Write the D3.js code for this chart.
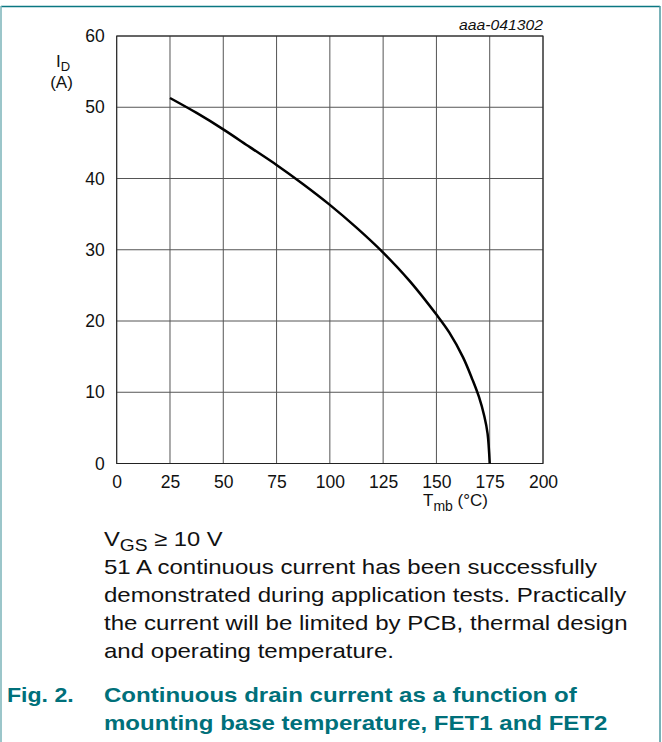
<!DOCTYPE html>
<html>
<head>
<meta charset="utf-8">
<script src="https://cdn.jsdelivr.net/npm/d3@7"></script>
<style>
  body { margin: 0; background: #fff; }
  svg { display: block; font-family: "Liberation Sans", Arial, sans-serif; }
</style>
</head>
<body>
<div id="chart"></div>
<script>
// values: T_mb (°C) vs I_D (A)
let tempValues = [25, 37.5, 50, 62.5, 75, 87.5, 100, 112.5, 125, 137.5, 150, 156, 162.5, 167, 170, 172.5, 174, 175];
let currentValues = [51.3, 49.2, 46.9, 44.4, 41.9, 39.2, 36.3, 33.1, 29.6, 25.6, 20.9, 18.4, 14.9, 11.7, 9.3, 6.6, 4.2, 0];
let xTicks = [0, 25, 50, 75, 100, 125, 150, 175, 200];
let yTicks = [0, 10, 20, 30, 40, 50, 60];
let noteLines = [
    "51 A continuous current has been successfully",
    "demonstrated during application tests. Practically",
    "the current will be limited by PCB, thermal design",
    "and operating temperature."
];
let captionLines = [
    "Continuous drain current as a function of",
    "mounting base temperature, FET1 and FET2"
];

let W = 662, H = 742;
let teal = "#00707a";
let ink = "#111";

let svg = d3.select("#chart").append("svg")
    .attr("width", W).attr("height", H);

// stretched text block: the source uses a slightly wide Arial
function textAt(px, py, sx) {
    return svg.append("g")
        .attr("transform", `translate(${px},${py}) scale(${sx},1)`)
        .append("text").attr("fill", ink);
}

// frame
svg.append("line").attr("x1", 1).attr("x2", 660).attr("y1", 6.5).attr("y2", 6.5)
    .attr("stroke", "#0b7782").attr("stroke-width", 1.5);
svg.append("line").attr("x1", 1).attr("x2", 1).attr("y1", 6).attr("y2", H)
    .attr("stroke", "#7ab3b9").attr("stroke-width", 1.5);
svg.append("line").attr("x1", 660).attr("x2", 660).attr("y1", 6).attr("y2", H)
    .attr("stroke", "#4d98a0").attr("stroke-width", 1.5);

let x = d3.scaleLinear().domain([0, 200]).range([116.7, 543]);
let y = d3.scaleLinear().domain([0, 60]).range([463.5, 36]);

// grid
let grid = svg.append("g").attr("class", "grid");
grid.selectAll("line.v").data(xTicks).enter().append("line").classed("v", true)
    .attr("x1", d => x(d)).attr("x2", d => x(d))
    .attr("y1", y(0)).attr("y2", y(60))
    .attr("stroke", "#555").attr("stroke-width", 1);
grid.selectAll("line.h").data(yTicks).enter().append("line").classed("h", true)
    .attr("x1", x(0)).attr("x2", x(200))
    .attr("y1", d => y(d)).attr("y2", d => y(d))
    .attr("stroke", "#555").attr("stroke-width", 1);
svg.append("rect")
    .attr("x", x(0)).attr("y", y(60))
    .attr("width", x(200) - x(0)).attr("height", y(0) - y(60))
    .attr("fill", "none").attr("stroke", "#222").attr("stroke-width", 1);

// axes (labels only)
let xAxis = svg.append("g").attr("transform", `translate(0,${y(0)})`)
    .call(d3.axisBottom(x).tickValues(xTicks).tickSize(0).tickPadding(12));
let yAxis = svg.append("g").attr("transform", `translate(${x(0)},0)`)
    .call(d3.axisLeft(y).tickValues(yTicks).tickSize(0).tickPadding(12));
[xAxis, yAxis].forEach(a => {
    a.select(".domain").remove();
    a.selectAll("text").attr("font-size", 17.5).attr("fill", ink)
        .attr("font-family", "'Liberation Sans', Arial, sans-serif");
});

// curve
let pts = tempValues.map((t, i) => [t, currentValues[i]]);
svg.append("path").datum(pts)
    .attr("d", d3.line().x(d => x(d[0])).y(d => y(d[1])).curve(d3.curveCatmullRom))
    .attr("fill", "none").attr("stroke", "#000").attr("stroke-width", 2.5);

// axis titles
let idLabel = textAt(56, 66.5, 1).attr("font-size", 17);
idLabel.append("tspan").text("I");
idLabel.append("tspan").attr("dy", 4).attr("font-size", 13).text("D");
textAt(61.5, 88, 1).attr("text-anchor", "middle").attr("font-size", 17).text("(A)");

let tLabel = textAt(423, 506, 1).attr("font-size", 17);
tLabel.append("tspan").text("T");
tLabel.append("tspan").attr("dy", 5).attr("font-size", 14).text("mb");
tLabel.append("tspan").attr("dy", -5).text(" (°C)");

textAt(543, 30, 1.05).attr("text-anchor", "end")
    .attr("font-size", 15).attr("font-style", "italic").text("aaa-041302");

// notes
let vgs = textAt(104, 546, 1.13).attr("font-size", 21);
vgs.append("tspan").text("V");
vgs.append("tspan").attr("dy", 5).attr("font-size", 17).text("GS");
vgs.append("tspan").attr("dy", -5).text(" ≥ 10 V");

noteLines.forEach((line, i) => {
    textAt(104, 574 + i * 28, 1.145).attr("font-size", 21).text(line);
});

// caption
textAt(7, 702, 1.1).attr("font-size", 21)
    .attr("font-weight", "bold").attr("fill", teal).text("Fig. 2.");
captionLines.forEach((line, i) => {
    textAt(104, 702 + i * 28, 1.145).attr("font-size", 21)
        .attr("font-weight", "bold").attr("fill", teal).text(line);
});
</script>
</body>
</html>
